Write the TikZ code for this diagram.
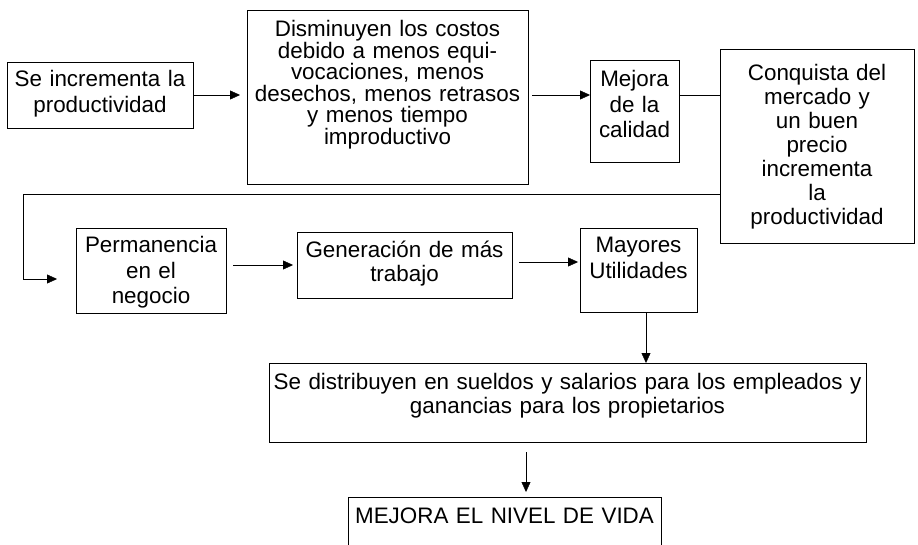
\documentclass[tikz,border=0pt]{standalone}
\usepackage{fontspec}
\setmainfont{Liberation Sans}
\usetikzlibrary{
  arrows.meta,
}
\def\mysize{22.4pt}
\def\mytop{26pt}
\tikzset{
  line width=1.1pt,
  >={Triangle[length=10pt,width=9pt]},
  my box/.style={
    draw,
    align=center,
    inner sep=0pt,
    outer sep=0pt,
    anchor=north west,
    text height=\mytop,
    font=\fontsize{\mysize}{25.5pt}\selectfont
  },
  my tight box/.style={
    my box,
    font=\fontsize{\mysize}{21.5pt}\selectfont
  },
  my mid box/.style={
    my box,
    font=\fontsize{\mysize}{24pt}\selectfont
  }
}

\begin{document}
\begin{tikzpicture}[x=1pt,y=-1pt]
\useasboundingbox (0,0) rectangle (918,545);
\node[my box,text width=186pt,text height=25pt,text depth=41pt] (incr) at (7,62)
  {Se incrementa la\\productividad};
\node[my tight box,text width=281pt,text height=27pt,text depth=147pt] (costos) at (247,10)
  {Disminuyen los costos\\debido a menos equi-\\vocaciones, menos\\desechos, menos retrasos\\y menos tiempo\\improductivo};
\node[my box,text width=89pt,text height=27pt,text depth=75pt] (calidad) at (590,60)
  {Mejora\\de la\\calidad};
\node[my mid box,text width=194pt,text height=32pt,text depth=162pt] (mercado) at (720,49)
  {Conquista del\\mercado y\\un buen\\precio\\incrementa\\la\\productividad};
\node[my box,text width=150pt,text height=25pt,text depth=60pt] (perm) at (76,228)
  {Permanencia\\en el\\negocio};
\node[my mid box,text width=215pt,text depth=40pt] (trabajo) at (297,232)
  {Generaci\'on de m\'as\\trabajo};
\node[my box,text width=117pt,text height=25pt,text depth=59pt] (util) at (580,228)
  {Mayores\\Utilidades};
\node[my mid box,text width=597pt,text depth=53pt] (sueldos) at (269,363)
  {Se distribuyen en sueldos y salarios para los empleados y\\ganancias para los propietarios};
\node[my box,text width=313pt,text depth=50pt] (vida) at (348,497)
  {MEJORA EL NIVEL DE VIDA};

\coordinate (turn) at (23,194);
\draw[->,shorten >=7pt] (incr.east) -- (incr.east -| costos.west);
\draw[->,shorten <=4pt] (costos.east |- incr.east) -- (calidad.west |- incr.east);
\draw (calidad.east |- incr.east) -- (mercado.west |- incr.east);
\draw[->,shorten >=19pt] (mercado.west |- turn) -- (turn) |- ([yshift=-8.5pt]perm.west);
\draw[->,shorten <=7pt,shorten >=4pt] (perm.east |- trabajo.west) -- (trabajo.west);
\draw[->,shorten <=7pt,shorten >=2pt] ([yshift=3pt]trabajo.east) -- ([yshift=3pt]trabajo.east -| util.west);
\draw[->] ([xshift=7.5pt]util.south) -- ([xshift=7.5pt]util.south |- sueldos.north);
\draw[->,shorten <=10pt,shorten >=5pt] ([xshift=-41.5pt]sueldos.south) -- ([xshift=-41.5pt]sueldos.south |- vida.north);
\end{tikzpicture}
\end{document}
